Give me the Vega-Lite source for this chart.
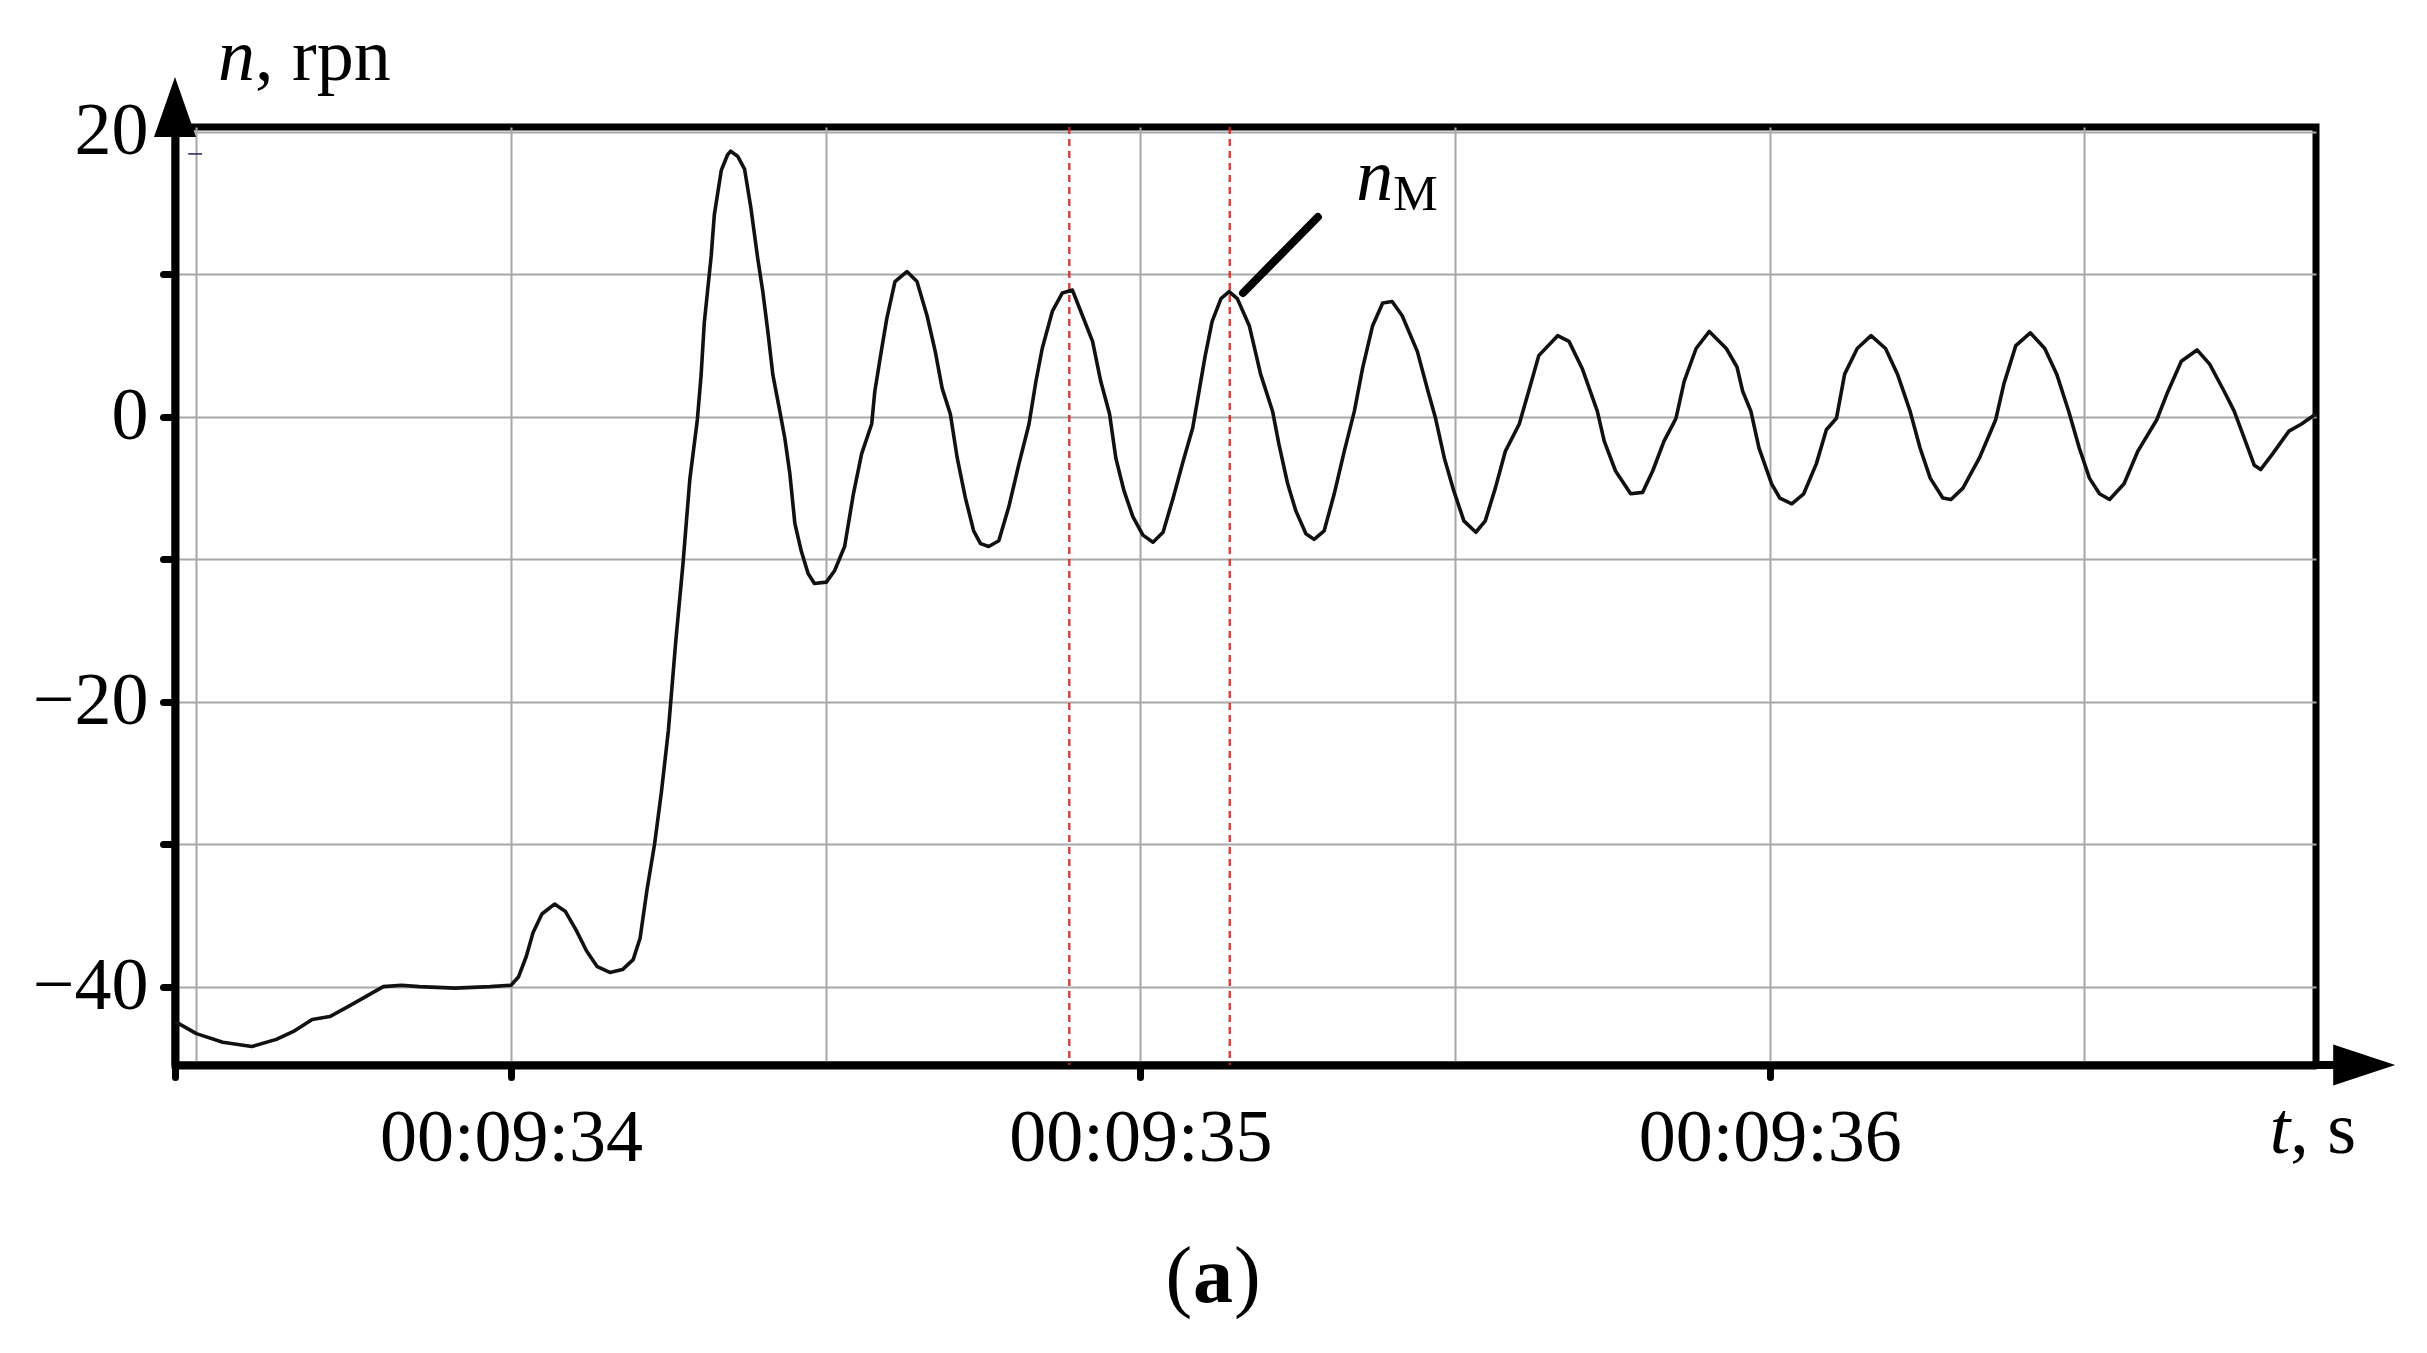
{
  "$schema": "https://vega.github.io/schema/vega-lite/v6.json",
  "width": 2141,
  "height": 938,
  "autosize": "none",
  "padding": {"left": 175, "top": 127, "right": 111, "bottom": 288},
  "background": "white",
  "config": {
    "view": {"stroke": "black", "strokeWidth": 7},
    "font": "Liberation Serif",
    "axis": {
      "labelFont": "Liberation Serif",
      "labelFontSize": 74,
      "labelColor": "black",
      "labelLimit": 1000,
      "domainColor": "black",
      "domainWidth": 8,
      "tickColor": "black",
      "tickWidth": 7,
      "tickSize": 12,
      "tickCap": "round",
      "gridColor": "#a8a8a8",
      "gridWidth": 2,
      "labelOverlap": false,
      "labelFlush": false,
      "title": null
    }
  },
  "datasets": {
    "curve": [
      {"t": 33.466, "n": -42.5}, {"t": 33.472, "n": -42.6}, {"t": 33.5, "n": -43.3}, {"t": 33.542, "n": -43.9},
      {"t": 33.588, "n": -44.2}, {"t": 33.627, "n": -43.7}, {"t": 33.656, "n": -43.1}, {"t": 33.684, "n": -42.3},
      {"t": 33.712, "n": -42.1}, {"t": 33.741, "n": -41.4}, {"t": 33.769, "n": -40.7}, {"t": 33.797, "n": -40.0},
      {"t": 33.826, "n": -39.9}, {"t": 33.854, "n": -40.0}, {"t": 33.911, "n": -40.1}, {"t": 33.967, "n": -40.0},
      {"t": 34.0, "n": -39.9}, {"t": 34.012, "n": -39.3}, {"t": 34.024, "n": -37.9}, {"t": 34.035, "n": -36.2},
      {"t": 34.049, "n": -34.9}, {"t": 34.069, "n": -34.2}, {"t": 34.086, "n": -34.7}, {"t": 34.103, "n": -36.0},
      {"t": 34.12, "n": -37.5}, {"t": 34.137, "n": -38.6}, {"t": 34.157, "n": -39.0}, {"t": 34.177, "n": -38.8},
      {"t": 34.194, "n": -38.1}, {"t": 34.205, "n": -36.6}, {"t": 34.216, "n": -33.2}, {"t": 34.228, "n": -30.0},
      {"t": 34.239, "n": -26.3}, {"t": 34.25, "n": -22.0}, {"t": 34.262, "n": -15.6}, {"t": 34.273, "n": -10.4},
      {"t": 34.284, "n": -4.4}, {"t": 34.296, "n": -0.2}, {"t": 34.302, "n": 2.95}, {"t": 34.307, "n": 6.6},
      {"t": 34.318, "n": 11.3}, {"t": 34.323, "n": 14.2}, {"t": 34.334, "n": 17.3}, {"t": 34.344, "n": 18.4},
      {"t": 34.349, "n": 18.65}, {"t": 34.36, "n": 18.3}, {"t": 34.371, "n": 17.4}, {"t": 34.381, "n": 14.7},
      {"t": 34.392, "n": 11.1}, {"t": 34.4, "n": 8.8}, {"t": 34.408, "n": 6.0}, {"t": 34.416, "n": 2.95},
      {"t": 34.427, "n": 0.4}, {"t": 34.435, "n": -1.5}, {"t": 34.443, "n": -4.0}, {"t": 34.451, "n": -7.5},
      {"t": 34.461, "n": -9.4}, {"t": 34.472, "n": -11.0}, {"t": 34.482, "n": -11.7}, {"t": 34.501, "n": -11.6},
      {"t": 34.514, "n": -10.8}, {"t": 34.53, "n": -9.1}, {"t": 34.544, "n": -5.4}, {"t": 34.557, "n": -2.6},
      {"t": 34.573, "n": -0.5}, {"t": 34.578, "n": 1.8}, {"t": 34.589, "n": 4.8}, {"t": 34.597, "n": 6.9},
      {"t": 34.61, "n": 9.5}, {"t": 34.629, "n": 10.2}, {"t": 34.645, "n": 9.5}, {"t": 34.661, "n": 7.1},
      {"t": 34.674, "n": 4.6}, {"t": 34.685, "n": 2.0}, {"t": 34.698, "n": 0.2}, {"t": 34.709, "n": -2.9},
      {"t": 34.722, "n": -5.7}, {"t": 34.735, "n": -8.0}, {"t": 34.746, "n": -8.9}, {"t": 34.759, "n": -9.1},
      {"t": 34.775, "n": -8.7}, {"t": 34.791, "n": -6.3}, {"t": 34.807, "n": -3.3}, {"t": 34.823, "n": -0.5},
      {"t": 34.834, "n": 2.5}, {"t": 34.844, "n": 4.8}, {"t": 34.86, "n": 7.4}, {"t": 34.876, "n": 8.7},
      {"t": 34.892, "n": 8.9}, {"t": 34.908, "n": 7.1}, {"t": 34.924, "n": 5.3}, {"t": 34.937, "n": 2.5},
      {"t": 34.951, "n": 0.2}, {"t": 34.961, "n": -2.9}, {"t": 34.974, "n": -5.2}, {"t": 34.988, "n": -7.0},
      {"t": 35.004, "n": -8.3}, {"t": 35.02, "n": -8.8}, {"t": 35.036, "n": -8.1}, {"t": 35.052, "n": -5.7},
      {"t": 35.068, "n": -3.1}, {"t": 35.083, "n": -0.8}, {"t": 35.094, "n": 2.0}, {"t": 35.103, "n": 4.3},
      {"t": 35.114, "n": 6.7}, {"t": 35.128, "n": 8.3}, {"t": 35.141, "n": 8.8}, {"t": 35.154, "n": 8.3},
      {"t": 35.173, "n": 6.4}, {"t": 35.191, "n": 3.0}, {"t": 35.21, "n": 0.4}, {"t": 35.22, "n": -1.9},
      {"t": 35.234, "n": -4.7}, {"t": 35.247, "n": -6.6}, {"t": 35.263, "n": -8.2}, {"t": 35.276, "n": -8.6},
      {"t": 35.292, "n": -8.0}, {"t": 35.308, "n": -5.4}, {"t": 35.324, "n": -2.4}, {"t": 35.34, "n": 0.4},
      {"t": 35.353, "n": 3.4}, {"t": 35.369, "n": 6.4}, {"t": 35.385, "n": 8.0}, {"t": 35.4, "n": 8.1},
      {"t": 35.416, "n": 7.1}, {"t": 35.44, "n": 4.6}, {"t": 35.457, "n": 1.8}, {"t": 35.469, "n": -0.1},
      {"t": 35.483, "n": -2.9}, {"t": 35.498, "n": -5.2}, {"t": 35.514, "n": -7.3}, {"t": 35.533, "n": -8.1},
      {"t": 35.548, "n": -7.3}, {"t": 35.564, "n": -5.0}, {"t": 35.58, "n": -2.4}, {"t": 35.602, "n": -0.5},
      {"t": 35.617, "n": 1.8}, {"t": 35.633, "n": 4.3}, {"t": 35.663, "n": 5.7}, {"t": 35.681, "n": 5.3},
      {"t": 35.702, "n": 3.4}, {"t": 35.726, "n": 0.4}, {"t": 35.737, "n": -1.7}, {"t": 35.755, "n": -3.8},
      {"t": 35.779, "n": -5.4}, {"t": 35.798, "n": -5.3}, {"t": 35.814, "n": -3.8}, {"t": 35.832, "n": -1.7},
      {"t": 35.851, "n": -0.1}, {"t": 35.864, "n": 2.5}, {"t": 35.883, "n": 4.8}, {"t": 35.904, "n": 6.0},
      {"t": 35.931, "n": 4.8}, {"t": 35.948, "n": 3.5}, {"t": 35.957, "n": 1.8}, {"t": 35.97, "n": 0.4},
      {"t": 35.983, "n": -2.2}, {"t": 36.003, "n": -4.7}, {"t": 36.016, "n": -5.7}, {"t": 36.035, "n": -6.1},
      {"t": 36.054, "n": -5.4}, {"t": 36.074, "n": -3.3}, {"t": 36.09, "n": -0.9}, {"t": 36.106, "n": -0.1},
      {"t": 36.119, "n": 3.0}, {"t": 36.139, "n": 4.8}, {"t": 36.161, "n": 5.7}, {"t": 36.184, "n": 4.8},
      {"t": 36.203, "n": 3.0}, {"t": 36.223, "n": 0.4}, {"t": 36.239, "n": -2.2}, {"t": 36.255, "n": -4.3},
      {"t": 36.275, "n": -5.7}, {"t": 36.288, "n": -5.8}, {"t": 36.307, "n": -5.0}, {"t": 36.333, "n": -2.9},
      {"t": 36.359, "n": -0.2}, {"t": 36.372, "n": 2.3}, {"t": 36.391, "n": 5.0}, {"t": 36.414, "n": 5.9},
      {"t": 36.437, "n": 4.8}, {"t": 36.456, "n": 3.0}, {"t": 36.475, "n": 0.4}, {"t": 36.492, "n": -2.2},
      {"t": 36.508, "n": -4.3}, {"t": 36.524, "n": -5.4}, {"t": 36.54, "n": -5.8}, {"t": 36.563, "n": -4.7},
      {"t": 36.585, "n": -2.4}, {"t": 36.615, "n": -0.2}, {"t": 36.631, "n": 1.6}, {"t": 36.654, "n": 3.9},
      {"t": 36.679, "n": 4.7}, {"t": 36.699, "n": 3.7}, {"t": 36.722, "n": 1.8}, {"t": 36.738, "n": 0.4},
      {"t": 36.754, "n": -1.5}, {"t": 36.77, "n": -3.4}, {"t": 36.78, "n": -3.7}, {"t": 36.799, "n": -2.6},
      {"t": 36.825, "n": -1.0}, {"t": 36.845, "n": -0.5}, {"t": 36.858, "n": -0.1}, {"t": 36.868, "n": 0.2}
    ],
    "markers": [{"t": 34.887}, {"t": 35.142}],
    "leader": [{"t": 35.163, "n": 8.7, "t2": 35.282, "n2": 14.03}],
    "italic": [
      {"t": 33.5932, "n": 23.65, "text": "n"},
      {"t": 35.4016, "n": 15.23, "text": "n"},
      {"t": 36.827, "n": -51.67, "text": "t"}
    ],
    "regular": [
      {"t": 33.5932, "n": 23.65, "text": ", rpn"},
      {"t": 36.827, "n": -51.67, "text": ", s"}
    ],
    "sub": [{"t": 35.4016, "n": 14.53, "text": "M"}],
    "caption": [{"t": 35.1155, "n": -62.13, "open": "(", "letter": "a", "close": ")"}],
    "yarrow": [{"t": 33.466, "n": 21.755}],
    "xarrow": [{"t": 36.9446, "n": -45.5}],
    "xstem": [{"t": 36.862, "t2": 36.92, "n": -45.5}],
    "blip": [{"t": 33.487, "t2": 33.509, "n": 18.46}]
  },
  "encoding": {
    "x": {
      "field": "t",
      "type": "quantitative",
      "scale": {"domain": [33.466, 36.868], "nice": false, "zero": false},
      "axis": {
        "values": [33.466, 33.5, 34, 34.5, 35, 35.5, 36, 36.5],
        "labelExpr": "datum.value % 1 === 0 ? '00:09:' + datum.value : ''",
        "labelPadding": 25,
        "tickOpacity": {"condition": {"test": "datum.value % 1 === 0 || datum.value < 33.48", "value": 1}, "value": 0},
        "gridOpacity": {"condition": {"test": "datum.value < 33.48", "value": 0}, "value": 1}
      }
    },
    "y": {
      "field": "n",
      "type": "quantitative",
      "scale": {"domain": [-45.5, 20.35], "nice": false, "zero": false},
      "axis": {
        "values": [-40, -30, -20, -10, 0, 10, 20],
        "labelExpr": "datum.value % 20 === 0 ? (datum.value < 0 ? '\u2212' + abs(datum.value) : '' + datum.value) : ''",
        "labelPadding": 15
      }
    }
  },
  "layer": [
    {
      "data": {"name": "markers"},
      "mark": {"type": "rule", "color": "#c62828", "strokeWidth": 2.5, "strokeDash": [7, 5], "opacity": 0.85},
      "encoding": {"y": null}
    },
    {
      "data": {"name": "markers"},
      "mark": {"type": "rule", "color": "#b80000", "strokeWidth": 5},
      "encoding": {"y": {"datum": 20.35}, "y2": {"datum": 19.3}}
    },
    {
      "data": {"name": "markers"},
      "mark": {"type": "rule", "color": "#b80000", "strokeWidth": 5},
      "encoding": {"y": {"datum": -45.5}, "y2": {"datum": -44.65}}
    },
    {
      "data": {"name": "curve"},
      "mark": {"type": "line", "color": "#111111", "strokeWidth": 3.6, "strokeJoin": "round"}
    },
    {
      "data": {"name": "blip"},
      "mark": {"type": "rule", "color": "#202060", "strokeWidth": 1.5},
      "encoding": {"x2": {"field": "t2"}}
    },
    {
      "data": {"name": "leader"},
      "mark": {"type": "rule", "color": "black", "strokeWidth": 8, "strokeCap": "round"},
      "encoding": {"x2": {"field": "t2"}, "y2": {"field": "n2"}}
    },
    {
      "data": {"name": "xstem"},
      "mark": {"type": "rule", "color": "black", "strokeWidth": 8},
      "encoding": {"x2": {"field": "t2"}}
    },
    {
      "data": {"name": "yarrow"},
      "mark": {"type": "point", "shape": "M 0 -1 L 0.7 1 L -0.7 1 Z", "size": 3600, "filled": true, "color": "black", "opacity": 1, "strokeWidth": 0}
    },
    {
      "data": {"name": "xarrow"},
      "mark": {"type": "point", "shape": "M 1 0 L -1 -0.66 L -1 0.66 Z", "size": 3844, "filled": true, "color": "black", "opacity": 1, "strokeWidth": 0}
    },
    {
      "data": {"name": "italic"},
      "mark": {"type": "text", "font": "Liberation Serif", "fontSize": 74, "fontStyle": "italic", "align": "right", "baseline": "alphabetic", "color": "black"},
      "encoding": {"text": {"field": "text"}}
    },
    {
      "data": {"name": "regular"},
      "mark": {"type": "text", "font": "Liberation Serif", "fontSize": 74, "align": "left", "baseline": "alphabetic", "color": "black"},
      "encoding": {"text": {"field": "text"}}
    },
    {
      "data": {"name": "sub"},
      "mark": {"type": "text", "font": "Liberation Serif", "fontSize": 50, "align": "left", "baseline": "alphabetic", "color": "black"},
      "encoding": {"text": {"field": "text"}}
    },
    {
      "data": {"name": "caption"},
      "mark": {"type": "text", "font": "Liberation Serif", "fontSize": 80, "fontWeight": "bold", "align": "center", "baseline": "alphabetic", "color": "black"},
      "encoding": {"text": {"field": "letter"}}
    },
    {
      "data": {"name": "caption"},
      "mark": {"type": "text", "font": "Liberation Serif", "fontSize": 80, "align": "right", "baseline": "alphabetic", "dx": -21, "color": "black"},
      "encoding": {"text": {"field": "open"}}
    },
    {
      "data": {"name": "caption"},
      "mark": {"type": "text", "font": "Liberation Serif", "fontSize": 80, "align": "left", "baseline": "alphabetic", "dx": 21, "color": "black"},
      "encoding": {"text": {"field": "close"}}
    }
  ]
}
